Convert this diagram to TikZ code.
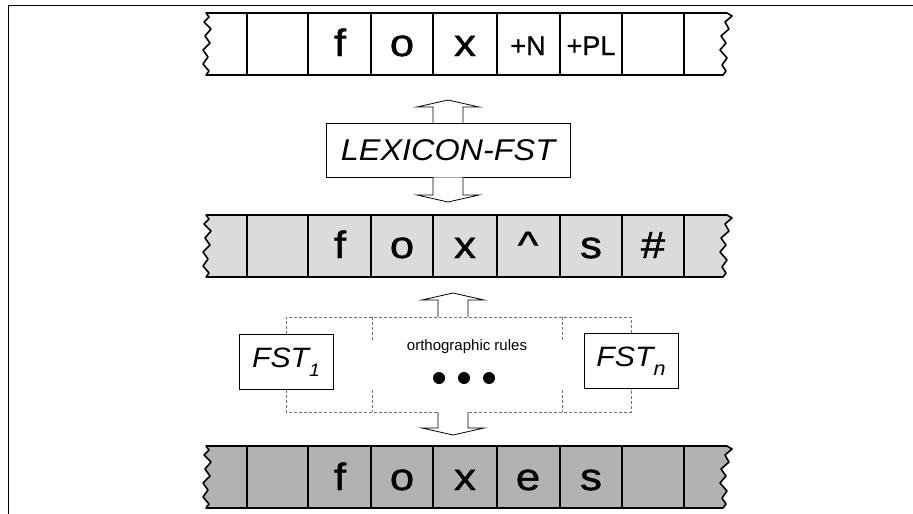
\documentclass[tikz,border=0pt]{standalone}
\usepackage{fontspec}
\setsansfont{Liberation Sans}
\newfontfamily\tapefont[FakeStretch=1.15, FakeBold=1.2]{Liberation Sans}
\newfontfamily\tagfont[FakeBold=0.8]{Liberation Sans}
\newfontfamily\fstfont[FakeStretch=1.08]{Liberation Sans}
\usetikzlibrary{calc}

\tikzset{
  tapeedge/.style={draw=black, line width=1.6pt, line join=round},
  cellline/.style={line width=1.3pt},
  sym/.style={font=\tapefont\fontsize{38}{38}\selectfont, inner sep=0pt, anchor=base},
  tag/.style={font=\tagfont\fontsize{27}{27}\selectfont, inner sep=0pt, anchor=base},
  fstbox/.style={draw, line width=0.8pt, fill=white, inner sep=0pt,
    font=\fstfont\itshape\fontsize{28}{28}\selectfont},
  barrow/.style={draw, line width=0.8pt, fill=white, line join=miter},
  rules/.style={densely dashed, black!55, line width=0.5pt},
  dotmark/.style={circle, fill=black, inner sep=0pt, minimum size=12pt},
}

% one strip of tape with torn ends and its cell borders; #1 = top, #2 = fill
\newcommand\tapestrip[2]{%
  \begin{scope}[shift={(0,#1)}]
    \path[tapeedge, fill=#2]
      (206,0) -- (727,0) -- (732,3) -- (725,9) -- (729,16) -- (721,23)
      -- (726,30) -- (720,37) -- (727,45) -- (722,52) -- (726,58) -- (723,62)
      -- (206,62) -- (209,58) -- (203,51) -- (208,44) -- (203,37) -- (210,30)
      -- (205,23) -- (211,16) -- (204,9) -- (209,4) -- cycle;
    \foreach \cx in {247,308,371,433,497,560,622,684}
      \draw[cellline] (\cx,0) -- (\cx,62);
  \end{scope}}

% block arrows: shaft from #1, head tip at #2
\newcommand\liftarrow[2]{%
  \draw[barrow] ($(#1)+(-15,0)$) -- ($(#2)+(-15,7)$) -- ($(#2)+(-31,7)$)
    -- (#2) -- ($(#2)+(31,7)$) -- ($(#2)+(15,7)$) -- ($(#1)+(15,0)$);}
\newcommand\droparrow[2]{%
  \draw[barrow] ($(#1)+(-15,0)$) -- ($(#2)+(-15,-7)$) -- ($(#2)+(-31,-7)$)
    -- (#2) -- ($(#2)+(31,-7)$) -- ($(#2)+(15,-7)$) -- ($(#1)+(15,0)$);}

\begin{document}
\begin{tikzpicture}[x=1pt, y=-1pt]
  \useasboundingbox (0,0) rectangle (913,514);

  % frame
  \draw[line width=0.9pt] (913,5) -- (8,5) -- (8,514);

  % lexical tape
  \tapestrip{13}{white}
  \node[sym] (l1) at (340,56) {f};
  \node[sym] (l2) at (402,56) {o};
  \node[sym] (l3) at (465,56) {x};
  \node[tag] (l4) at (528,55) {+N};
  \node[tag] (l5) at (591,55) {+PL};

  % intermediate tape
  \tapestrip{215}{black!14}
  \node[sym] (i1) at (340,258) {f};
  \node[sym] (i2) at (402,258) {o};
  \node[sym] (i3) at (465,258) {x};
  \node[sym] (i4) at (528,258) {\^{}};
  \node[sym] (i5) at (591,258) {s};
  \node[sym] (i6) at (653,258) {\#};

  % surface tape
  \tapestrip{446}{black!30}
  \node[sym] (s1) at (340,490) {f};
  \node[sym] (s2) at (402,490) {o};
  \node[sym] (s3) at (465,490) {x};
  \node[sym] (s4) at (528,490) {e};
  \node[sym] (s5) at (591,490) {s};

  % lexicon transducer
  \node[fstbox, minimum width=244pt, minimum height=54pt,
    font=\fstfont\itshape\fontsize{30}{30}\selectfont] (lex) at (448,150) {LEXICON-FST};
  \coordinate (lexup) at (448,100);
  \coordinate (lexdown) at (448,202);
  \liftarrow{lex.north}{lexup}
  \droparrow{lex.south}{lexdown}

  % orthographic rule transducers
  \node[fstbox, minimum width=94pt, minimum height=55pt] (fst1) at (286,362)
    {FST\raisebox{-0.32em}{\fontsize{18}{18}\selectfont 1}\hspace{2pt}};
  \node[fstbox, minimum width=94pt, minimum height=55pt] (fstn) at (631,361)
    {FST\raisebox{-0.32em}{\fontsize{20}{20}\selectfont n}\hspace{2pt}};

  \coordinate (rtop) at (453,317);
  \coordinate (rbot) at (453,412);
  \draw[rules] (fst1.north) -- (fst1.north |- rtop) -- (fstn.north |- rtop) -- (fstn.north);
  \draw[rules] (fst1.south) -- (fst1.south |- rbot) -- (fstn.south |- rbot) -- (fstn.south);
  \draw[rules] (372,317) -- (372,340) (372,390) -- (372,412);
  \draw[rules] (562,317) -- (562,340) (562,390) -- (562,412);

  \node[font=\sffamily\fontsize{15}{15}\selectfont, inner sep=0pt] (orth) at (467,347) {orthographic rules};
  \node[dotmark] (d1) at (439,378) {};
  \node[dotmark] (d2) at (464,378) {};
  \node[dotmark] (d3) at (489,378) {};

  \coordinate (ruleup) at (453,293);
  \coordinate (ruledown) at (453,435);
  \liftarrow{rtop}{ruleup}
  \droparrow{rbot}{ruledown}
\end{tikzpicture}
\end{document}
